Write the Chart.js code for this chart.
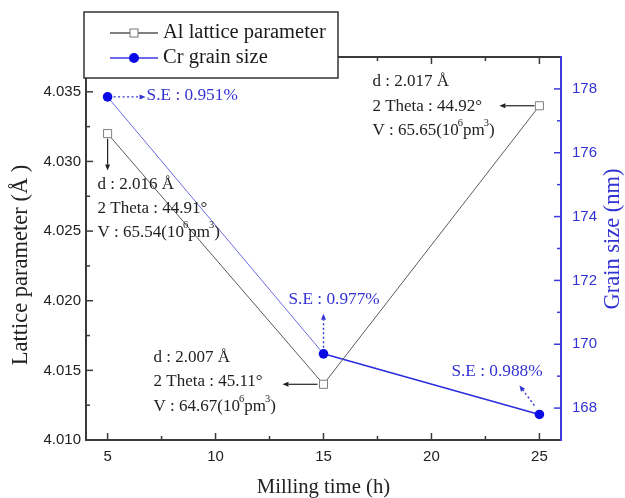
<!DOCTYPE html>
<html>
<head>
<meta charset="utf-8">
<script src="https://cdn.jsdelivr.net/npm/chart.js@4"></script>
<style>
  html, body { margin: 0; padding: 0; background: #fff; }
</style>
</head>
<body>
<canvas id="chart" width="625" height="498"></canvas>
<script>
// data
const millingTime = [5, 15, 25];
const latticeParam = [4.032, 4.014, 4.034];
const grainSize = [177.75, 169.7, 167.8];

const dSpacing = [2.016, 2.007, 2.017];
const twoTheta = [44.91, 45.11, 44.92];
const cellVolume = [65.54, 64.67, 65.65];
const stdError = [0.951, 0.977, 0.988];

const xTicks = [5, 10, 15, 20, 25];
const xMinorTicks = [7.5, 12.5, 17.5, 22.5];
const latticeTicks = [4.010, 4.015, 4.020, 4.025, 4.030, 4.035];
const latticeMinorTicks = [4.0125, 4.0175, 4.0225, 4.0275, 4.0325];
const grainTicks = [168, 170, 172, 174, 176, 178];
const grainMinorTicks = [169, 171, 173, 175, 177];

const serif = '"Liberation Serif", "Times New Roman", serif';
const sans = '"Liberation Sans", Arial, sans-serif';
const dark = "#222";
const blue = "#3232d2";

// annotation placement, offsets from the marker they point at
const alNoteLayout = [
  { arrow: [0, 5, 0, 37], text: [-10, 51], gap: 24 },
  { arrow: [-6, 0, -41, 0], text: [-170, -27], gap: 24.5 },
  { arrow: [-5, 0, -40, 0], text: [-167, -24], gap: 24.5 },
];
const seNoteLayout = [
  { arrow: [6, 0, 38, 0], text: [39, -1] },
  { arrow: [0, -6, 0, -40], text: [-35, -54] },
  { arrow: [-5, -9, -20, -29], text: [-88, -43] },
];

function drawArrow(ctx, x1, y1, x2, y2, color, dotted) {
  const ang = Math.atan2(y2 - y1, x2 - x1);
  const head = 6;
  const c = Math.cos(ang), s = Math.sin(ang);
  ctx.save();
  ctx.strokeStyle = color;
  ctx.fillStyle = color;
  ctx.lineWidth = dotted ? 1.4 : 1.2;
  if (dotted) ctx.setLineDash([2, 2.5]);
  ctx.beginPath();
  ctx.moveTo(x1, y1);
  ctx.lineTo(x2 - head * c, y2 - head * s);
  ctx.stroke();
  ctx.setLineDash([]);
  ctx.beginPath();
  ctx.moveTo(x2, y2);
  ctx.lineTo(x2 - head * c + 2.5 * s, y2 - head * s - 2.5 * c);
  ctx.lineTo(x2 - head * c - 2.5 * s, y2 - head * s + 2.5 * c);
  ctx.closePath();
  ctx.fill();
  ctx.restore();
}

// "V : 65.54(10^6pm^3)" with raised exponents
function drawVolume(ctx, x, y, v) {
  const parts = [
    [`V : ${v.toFixed(2)}(10`, false],
    ["6", true],
    ["pm", false],
    ["3", true],
    [")", false],
  ];
  let cx = x;
  parts.forEach(([t, sup]) => {
    ctx.font = sup ? `10.5px ${serif}` : `17px ${serif}`;
    ctx.fillText(t, sup ? cx - 1 : cx, sup ? y - 7 : y);
    cx += ctx.measureText(t).width + (sup ? -1 : 0);
  });
}

const overlayPlugin = {
  id: "overlay",
  afterDatasetsDraw(chart) {
    const { ctx, chartArea: a, scales } = chart;
    const { x, y, y2 } = scales;
    ctx.save();

    // frame
    ctx.lineWidth = 2;
    ctx.strokeStyle = "#3a3a3a";
    ctx.beginPath();
    ctx.moveTo(a.right, a.top);
    ctx.lineTo(a.left, a.top);
    ctx.lineTo(a.left, a.bottom);
    ctx.lineTo(a.right, a.bottom);
    ctx.stroke();

    // inward ticks
    ctx.lineWidth = 1.5;
    const tick = (vals, len) => {
      vals.forEach((v) => {
        const px = x.getPixelForValue(v);
        ctx.beginPath();
        ctx.moveTo(px, a.bottom);
        ctx.lineTo(px, a.bottom - len);
        ctx.moveTo(px, a.top);
        ctx.lineTo(px, a.top + len);
        ctx.stroke();
      });
    };
    tick(xTicks, 7);
    tick(xMinorTicks, 4);
    const ytick = (vals, len) => {
      vals.forEach((v) => {
        const py = y.getPixelForValue(v);
        ctx.beginPath();
        ctx.moveTo(a.left, py);
        ctx.lineTo(a.left + len, py);
        ctx.stroke();
      });
    };
    ytick(latticeTicks, 7);
    ytick(latticeMinorTicks, 4);

    ctx.strokeStyle = "#3b3bdb";
    ctx.lineWidth = 2;
    ctx.beginPath();
    ctx.moveTo(a.right, a.top - 1);
    ctx.lineTo(a.right, a.bottom + 1);
    ctx.stroke();
    ctx.lineWidth = 1.5;
    const rtick = (vals, len) => {
      vals.forEach((v) => {
        const py = y2.getPixelForValue(v);
        ctx.beginPath();
        ctx.moveTo(a.right, py);
        ctx.lineTo(a.right - len, py);
        ctx.stroke();
      });
    };
    rtick(grainTicks, 7);
    rtick(grainMinorTicks, 4);

    // y axis titles
    ctx.textAlign = "center";
    ctx.textBaseline = "middle";
    ctx.fillStyle = dark;
    ctx.font = `22.5px ${serif}`;
    ctx.save();
    ctx.translate(21, 265);
    ctx.rotate(-Math.PI / 2);
    ctx.fillText("Lattice parameter (Å )", 0, 0);
    ctx.restore();
    ctx.fillStyle = blue;
    ctx.save();
    ctx.translate(613, 239);
    ctx.rotate(-Math.PI / 2);
    ctx.fillText("Grain size (nm)", 0, 0);
    ctx.restore();

    // annotations
    ctx.textAlign = "left";
    millingTime.forEach((t, i) => {
      const px = x.getPixelForValue(t);
      const pa = y.getPixelForValue(latticeParam[i]);
      const pg = y2.getPixelForValue(grainSize[i]);

      const L = alNoteLayout[i];
      drawArrow(ctx, px + L.arrow[0], pa + L.arrow[1], px + L.arrow[2], pa + L.arrow[3], "#222", false);
      const tx = px + L.text[0];
      const ty = pa + L.text[1];
      ctx.fillStyle = dark;
      ctx.font = `17px ${serif}`;
      ctx.fillText(`d : ${dSpacing[i].toFixed(3)} Å`, tx, ty);
      ctx.fillText(`2 Theta : ${twoTheta[i].toFixed(2)}°`, tx, ty + L.gap);
      drawVolume(ctx, tx, ty + 2 * L.gap, cellVolume[i]);

      const S = seNoteLayout[i];
      drawArrow(ctx, px + S.arrow[0], pg + S.arrow[1], px + S.arrow[2], pg + S.arrow[3], blue, true);
      ctx.fillStyle = blue;
      ctx.font = `17.3px ${serif}`;
      ctx.fillText(`S.E : ${stdError[i].toFixed(3)}%`, px + S.text[0], pg + S.text[1]);
    });
    ctx.restore();
  },
  afterDraw(chart) {
    // legend box laid over the top-left of the plot
    const { ctx } = chart;
    ctx.save();
    ctx.fillStyle = "#fff";
    ctx.fillRect(84, 12, 254, 66);
    ctx.strokeStyle = "#333";
    ctx.lineWidth = 1.5;
    ctx.strokeRect(84, 12, 254, 66);
    ctx.font = `20.5px ${serif}`;
    ctx.textBaseline = "middle";
    chart.data.datasets.forEach((ds, i) => {
      const ly = 33 + 25 * i;
      ctx.strokeStyle = ds.legendLine;
      ctx.lineWidth = 1.3;
      ctx.beginPath();
      ctx.moveTo(110, ly);
      ctx.lineTo(158, ly);
      ctx.stroke();
      if (ds.pointStyle === "rect") {
        ctx.fillStyle = "#fff";
        ctx.fillRect(130, ly - 4, 8, 8);
        ctx.strokeStyle = "#777";
        ctx.lineWidth = 1;
        ctx.strokeRect(130, ly - 4, 8, 8);
      } else {
        ctx.fillStyle = ds.pointBackgroundColor;
        ctx.beginPath();
        ctx.arc(134, ly, 5, 0, Math.PI * 2);
        ctx.fill();
      }
      ctx.fillStyle = "#1a1a1a";
      ctx.fillText(ds.label, 163, ly);
    });
    ctx.restore();
  },
};

new Chart(document.getElementById("chart"), {
  type: "line",
  data: {
    datasets: [
      {
        label: "Al lattice parameter",
        data: millingTime.map((t, i) => ({ x: t, y: latticeParam[i] })),
        yAxisID: "y",
        borderColor: "#5a5a5a",
        legendLine: "#555",
        borderWidth: 1,
        pointStyle: "rect",
        pointRadius: 5.7,
        pointBackgroundColor: "#fff",
        pointBorderColor: "#808080",
        pointBorderWidth: 1,
      },
      {
        label: "Cr grain size",
        data: millingTime.map((t, i) => ({ x: t, y: grainSize[i] })),
        yAxisID: "y2",
        borderColor: "#2b2be0",
        legendLine: "#3a3ae0",
        borderWidth: 1.5,
        segment: {
          borderColor: (c) => (c.p0DataIndex === 0 ? "#6b6be4" : "#2b2be0"),
          borderWidth: (c) => (c.p0DataIndex === 0 ? 1 : 1.6),
        },
        pointStyle: "circle",
        pointRadius: 4.8,
        pointBackgroundColor: "#0a0ae6",
        pointBorderColor: "#0a0ae6",
        pointBorderWidth: 0,
      },
    ],
  },
  options: {
    responsive: false,
    animation: false,
    devicePixelRatio: 1,
    layout: { padding: { top: 57, left: 0, right: 0, bottom: 0 } },
    plugins: { legend: { display: false }, tooltip: { enabled: false } },
    scales: {
      x: {
        type: "linear",
        min: 4,
        max: 26,
        afterBuildTicks: (s) => { s.ticks = xTicks.map((v) => ({ value: v })); },
        afterFit: (s) => { s.height = 58; },
        grid: { drawOnChartArea: false, drawTicks: false },
        border: { display: false },
        ticks: { padding: 8, color: dark, font: { family: sans, size: 15 } },
        title: {
          display: true,
          text: "Milling time (h)",
          color: dark,
          font: { family: serif, size: 20.7, lineHeight: 1 },
          padding: { top: 0, bottom: 0 },
        },
      },
      y: {
        position: "left",
        min: 4.010,
        max: 4.0375,
        afterBuildTicks: (s) => { s.ticks = latticeTicks.map((v) => ({ value: v })); },
        afterFit: (s) => { s.width = 86; },
        grid: { drawOnChartArea: false, drawTicks: false },
        border: { display: false },
        ticks: {
          padding: 5,
          color: dark,
          font: { family: sans, size: 15 },
          callback: (v) => v.toFixed(3),
        },
      },
      y2: {
        position: "right",
        min: 167,
        max: 179,
        afterBuildTicks: (s) => { s.ticks = grainTicks.map((v) => ({ value: v })); },
        afterFit: (s) => { s.width = 64; },
        grid: { drawOnChartArea: false, drawTicks: false },
        border: { display: false },
        ticks: { padding: 11, color: blue, font: { family: sans, size: 15 } },
      },
    },
  },
  plugins: [overlayPlugin],
});
</script>
</body>
</html>
